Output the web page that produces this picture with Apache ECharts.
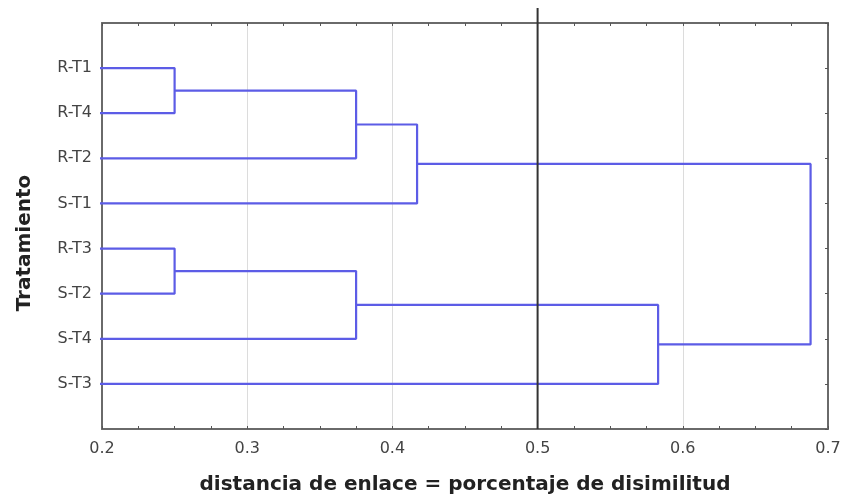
<!DOCTYPE html>
<html>
<head>
<meta charset="utf-8">
<script src="https://cdn.jsdelivr.net/npm/echarts@6/dist/echarts.min.js"></script>
<style>
html,body{margin:0;padding:0;background:#fff;}
#chart{width:841px;height:497px;}
</style>
</head>
<body>
<div id="chart"></div>
<script>
// Leaves in dendrogram order (top to bottom)
const leaves = ['R-T1', 'R-T4', 'R-T2', 'S-T1', 'R-T3', 'S-T2', 'S-T4', 'S-T3'];
// Merges: cluster k (named 'C' + (k+1)) joins mergeLeft[k] and mergeRight[k] at mergeDistance[k]
const mergeLeft = ['R-T1', 'C1', 'C2', 'R-T3', 'C4', 'C5', 'C3'];
const mergeRight = ['R-T4', 'R-T2', 'S-T1', 'S-T2', 'S-T4', 'S-T3', 'C6'];
const mergeDistance = [0.25, 0.375, 0.417, 0.25, 0.375, 0.583, 0.688];
// Reference line (linkage cut)
const cutDistance = 0.5;

const FONT = 'DejaVu Sans';
const LINK_COLOR = '#5c5ce6';

const pos = {}, hgt = {};
leaves.forEach((n, i) => { pos[n] = i + 1; hgt[n] = 0; });

const series = [];
mergeDistance.forEach((d, k) => {
  const a = mergeLeft[k], b = mergeRight[k];
  series.push({
    type: 'line',
    data: [[hgt[a], pos[a]], [d, pos[a]], [d, pos[b]], [hgt[b], pos[b]]],
    symbol: 'none',
    clip: true,
    silent: true,
    lineStyle: { color: LINK_COLOR, width: 2.2 },
    z: 3
  });
  const name = 'C' + (k + 1);
  pos[name] = (pos[a] + pos[b]) / 2;
  hgt[name] = d;
});

// cut line, extended a little above the frame as in the original
series.push({
  type: 'line',
  data: [[cutDistance, -0.33], [cutDistance, leaves.length + 1]],
  symbol: 'none',
  clip: false,
  silent: true,
  lineStyle: { color: '#333', width: 2 },
  z: 5
});

const axisLineStyle = { show: true, onZero: false, lineStyle: { color: '#6a6a6a', width: 2 } };

const chart = echarts.init(document.getElementById('chart'), null, { renderer: 'canvas' });
chart.setOption({
  animation: false,
  backgroundColor: '#fff',
  grid: { left: 102, right: 13, top: 23, bottom: 68, containLabel: false, outerBoundsMode: 'none' },
  xAxis: [
    {
      type: 'value', min: 0.2, max: 0.7, interval: 0.1, position: 'bottom',
      axisLine: axisLineStyle,
      axisTick: { show: true, inside: true, length: 3, lineStyle: { color: '#555' } },
      minorTick: { show: true, splitNumber: 4, length: 3, lineStyle: { color: '#555' } },
      splitLine: { show: true, lineStyle: { color: '#dcdcdc', width: 1 } },
      axisLabel: { fontFamily: FONT, fontSize: 16, color: '#444', margin: 12, formatter: v => v.toFixed(1) },
      name: 'distancia de enlace = porcentaje de disimilitud',
      nameLocation: 'middle', nameGap: 46,
      nameTextStyle: { fontFamily: FONT, fontSize: 20, fontWeight: 'bold', color: '#222' }
    },
    {
      type: 'value', min: 0.2, max: 0.7, interval: 0.1, position: 'top',
      axisLine: axisLineStyle,
      axisTick: { show: true, inside: true, length: 3, lineStyle: { color: '#555' } },
      minorTick: { show: true, splitNumber: 4, length: 3, lineStyle: { color: '#555' } },
      splitLine: { show: false },
      axisLabel: { show: false }
    }
  ],
  yAxis: [
    {
      type: 'value', min: 0, max: leaves.length + 1, interval: 1, inverse: true, position: 'left',
      axisLine: axisLineStyle,
      axisTick: { show: false },
      splitLine: { show: false },
      axisLabel: { fontFamily: FONT, fontSize: 16, color: '#444', margin: 10,
        formatter: v => leaves[v - 1] || '' }
    },
    {
      type: 'value', min: 0, max: leaves.length + 1, interval: 1, inverse: true, position: 'right',
      axisLine: axisLineStyle,
      axisTick: { show: true, inside: true, length: 3, lineStyle: { color: '#555' } },
      splitLine: { show: false },
      axisLabel: { show: false }
    }
  ],
  graphic: [
    {
      type: 'text', x: 25, y: 243, rotation: Math.PI / 2,
      style: { text: 'Tratamiento', fontFamily: FONT, fontSize: 20, fontWeight: 'bold',
        fill: '#222', align: 'center', verticalAlign: 'middle' }
    }
  ],
  series: series
});
</script>
</body>
</html>
